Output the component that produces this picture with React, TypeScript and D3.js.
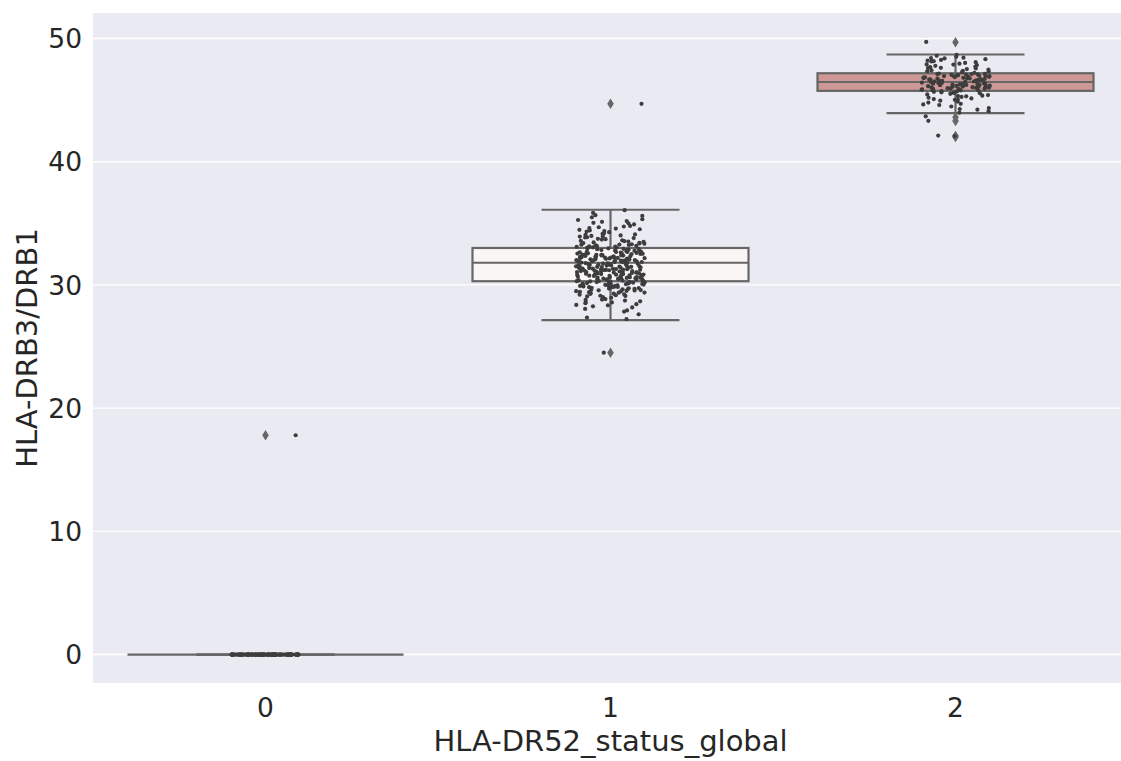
import React from "react";
import * as d3 from "d3";

// ---------- data ----------
const categories = ["0", "1", "2"];

// box statistics
const q1 = [0, 30.3, 45.75];
const medians = [0, 31.8, 46.47];
const q3 = [0, 33.0, 47.18];
const whiskerLow = [0, 27.15, 43.95];
const whiskerHigh = [0, 36.1, 48.7];
const fliers = [[17.8], [44.7, 24.5], [49.7, 43.6, 43.3, 42.1, 42.0]];

// stripplot observations
const strip0 = [
  0, 0, 0, 0, 0, 0, 0, 0, 0, 0, 0, 0, 0, 0, 0, 0, 0, 0, 0, 0,
  0, 0, 0, 0, 0, 0, 0, 0, 0, 0, 0, 0, 0, 0, 0, 0, 0, 0, 0, 0,
  0, 0, 0, 0, 0, 0, 0, 0, 0, 0, 0, 0, 0, 0, 0, 0, 0, 0, 0, 0,
  0, 0, 0, 0, 0, 0, 0, 0, 0, 0, 0, 0, 0, 0, 0, 0, 0, 0, 0, 0,
  0, 0, 0, 0, 0, 0, 0, 0, 0, 0, 0, 0, 0, 0, 0, 0, 0, 0, 0, 0,
  0, 0, 0, 0, 0, 0, 0, 0, 0, 0, 0, 0, 0, 0, 0, 0, 0, 0, 0, 0,
  17.8,
];
const strip1 = [
  27.22, 27.35, 27.61, 27.84, 27.93, 28.05, 28.17, 28.26, 28.38, 28.44, 28.52, 28.61, 28.67, 28.73, 28.79, 28.85, 28.91, 28.96,
  29.02, 29.07, 29.11, 29.16, 29.21, 29.24, 29.29, 29.33, 29.37, 29.41, 29.44, 29.48, 29.52, 29.55, 29.58, 29.61, 29.64, 29.67, 29.7, 29.73, 29.76, 29.79, 29.82, 29.84, 29.87, 29.9, 29.92, 29.95, 29.98,
  30.01, 30.03, 30.06, 30.08, 30.11, 30.13, 30.16, 30.18, 30.21, 30.23, 30.25, 30.28, 30.3, 30.32, 30.35, 30.37, 30.39, 30.42, 30.44, 30.46, 30.49, 30.51, 30.53, 30.55, 30.58, 30.6, 30.62, 30.64, 30.66, 30.69, 30.71, 30.73, 30.75, 30.77, 30.8, 30.82, 30.84, 30.86, 30.88, 30.9, 30.93, 30.95, 30.97, 30.99,
  31.01, 31.03, 31.05, 31.07, 31.09, 31.11, 31.13, 31.15, 31.17, 31.19, 31.21, 31.23, 31.25, 31.27, 31.29, 31.31, 31.33, 31.35, 31.37, 31.39, 31.41, 31.43, 31.45, 31.47, 31.49, 31.51, 31.53, 31.55, 31.57, 31.59, 31.61, 31.63, 31.65, 31.67, 31.69, 31.71, 31.73, 31.75, 31.77, 31.79, 31.81, 31.83, 31.85, 31.87, 31.89, 31.91, 31.93, 31.95, 31.97, 31.99,
  32.01, 32.04, 32.06, 32.08, 32.1, 32.13, 32.15, 32.17, 32.19, 32.22, 32.24, 32.26, 32.28, 32.31, 32.33, 32.35, 32.38, 32.4, 32.42, 32.45, 32.47, 32.5, 32.52, 32.55, 32.57, 32.6, 32.63, 32.65, 32.68, 32.71, 32.74, 32.77, 32.8, 32.83, 32.86, 32.9, 32.93, 32.97,
  33.01, 33.05, 33.09, 33.13, 33.17, 33.21, 33.26, 33.3, 33.35, 33.4, 33.45, 33.5, 33.56, 33.62, 33.68, 33.74, 33.8, 33.87, 33.94,
  34.02, 34.1, 34.19, 34.28, 34.37, 34.47, 34.57, 34.68, 34.79, 34.91, 35.04, 35.18, 35.33, 35.49, 35.66, 35.85, 36.07,
  24.5, 44.7,
  28.34, 28.81, 29.12, 29.38, 29.56, 29.74, 29.88, 29.97, 30.07, 30.19, 30.29, 30.41, 30.52, 30.63, 30.74, 30.83, 30.94,
  31.04, 31.12, 31.22, 31.32, 31.42, 31.52, 31.62, 31.72, 31.82, 31.92, 32.02, 32.12, 32.21, 32.3, 32.39, 32.48, 32.58,
  32.67, 32.76, 32.85, 32.95, 33.03, 33.15, 33.28, 33.42, 33.58, 33.71, 33.85, 33.98, 34.15, 34.33, 34.52, 34.74, 35.0,
  35.27, 35.6, 29.49, 30.15, 30.57, 31.08, 31.46, 31.86, 32.27, 32.69, 33.11, 33.52, 34.06, 34.61, 35.12, 29.83, 31.27,
  31.68, 32.16, 32.53, 32.92, 33.36, 30.46, 30.88, 31.58, 31.96, 32.44, 33.24, 33.92, 34.42, 28.58, 29.27, 29.69, 30.35,
];
const strip2 = [
  42.08, 42.12, 43.32, 43.68, 49.72,
  43.98, 44.1, 44.22, 44.35, 44.48, 44.6, 44.7, 44.8, 44.88, 44.95,
  45.02, 45.08, 45.14, 45.2, 45.26, 45.31, 45.36, 45.41, 45.46, 45.51, 45.55, 45.59, 45.63, 45.67, 45.71, 45.74,
  45.77, 45.79, 45.81, 45.83, 45.85, 45.87, 45.89, 45.91, 45.93, 45.95, 45.97, 45.99, 46.01, 46.03, 46.05, 46.07, 46.09, 46.11, 46.13, 46.15, 46.17, 46.19, 46.21, 46.23, 46.25, 46.27, 46.29, 46.31, 46.33, 46.35, 46.37, 46.39, 46.42, 46.45,
  46.49, 46.51, 46.53, 46.55, 46.57, 46.59, 46.61, 46.63, 46.65, 46.67, 46.69, 46.71, 46.73, 46.75, 46.77, 46.79, 46.81, 46.83, 46.85, 46.87, 46.89, 46.91, 46.93, 46.95, 46.97, 46.99, 47.01, 47.03, 47.05, 47.07, 47.09, 47.11, 47.13, 47.16,
  47.22, 47.27, 47.32, 47.37, 47.42, 47.47, 47.52, 47.57, 47.62, 47.67, 47.72, 47.78, 47.84, 47.9, 47.96, 48.02, 48.08, 48.14, 48.2, 48.26, 48.32, 48.38, 48.44, 48.52, 48.6, 48.68,
  44.28, 44.65, 45.05, 45.33, 45.6, 45.84, 46.02, 46.22, 46.4, 46.58, 46.76, 46.94, 47.12, 47.35, 47.6, 47.88, 48.16, 48.41,
];
const strips = [strip0, strip1, strip2];

const yTicks = [0, 10, 20, 30, 40, 50];
const boxFills = ["#9fb4d6", "#f9f6f5", "#cd9896"];
const xLabel = "HLA-DR52_status_global";
const yLabel = "HLA-DRB3/DRB1";

// ---------- layout ----------
const W = 1121;
const H = 761;
const plotLeft = 93;
const plotRight = 1128;
const plotTop = 13;
const plotBottom = 683;

const FONT = "'DejaVu Sans', sans-serif";
const TXT = "#262626";
const EDGE = "#666666";

// deterministic jitter (uniform in [-0.1, 0.1] category units)
function jitter(i: number, seed: number): number {
  const s = Math.sin(i * 12.9898 + seed * 78.233 + 1.7) * 43758.5453;
  const f = s - Math.floor(s);
  return (f - 0.5) * 0.2;
}

export default function App() {
  const x = d3.scaleLinear().domain([-0.5, 2.5]).range([plotLeft, plotRight]);
  const y = d3.scaleLinear().domain([-2.31, 52.07]).range([plotBottom, plotTop]);
  const boxW = x(0.4) - x(0);
  const capW = x(0.2) - x(0);

  const diamond = (cx: number, cy: number) =>
    `M${cx},${cy - 5.2}L${cx + 3.3},${cy}L${cx},${cy + 5.2}L${cx - 3.3},${cy}Z`;

  return (
    <svg
      width={W}
      height={H}
      style={{ position: "absolute", left: 0, top: 0, background: "#ffffff" }}
    >
      <rect x={0} y={0} width={W} height={H} fill="#ffffff" />
      <rect
        x={plotLeft}
        y={plotTop}
        width={plotRight - plotLeft}
        height={plotBottom - plotTop}
        fill="#eaeaf2"
      />
      {yTicks.map((t) => (
        <line
          key={"g" + t}
          x1={plotLeft}
          x2={plotRight}
          y1={y(t)}
          y2={y(t)}
          stroke="#ffffff"
          strokeWidth={1.4}
        />
      ))}

      {categories.map((c, i) => {
        const cx = x(i);
        return (
          <g key={"box" + c}>
            <line x1={cx} x2={cx} y1={y(q1[i])} y2={y(whiskerLow[i])} stroke={EDGE} strokeWidth={2.2} />
            <line x1={cx} x2={cx} y1={y(q3[i])} y2={y(whiskerHigh[i])} stroke={EDGE} strokeWidth={2.2} />
            <line x1={cx - capW} x2={cx + capW} y1={y(whiskerLow[i])} y2={y(whiskerLow[i])} stroke={EDGE} strokeWidth={2.2} />
            <line x1={cx - capW} x2={cx + capW} y1={y(whiskerHigh[i])} y2={y(whiskerHigh[i])} stroke={EDGE} strokeWidth={2.2} />
            <rect
              x={cx - boxW}
              y={y(q3[i])}
              width={boxW * 2}
              height={Math.max(0, y(q1[i]) - y(q3[i]))}
              fill={boxFills[i]}
              stroke={EDGE}
              strokeWidth={2.2}
            />
            <line x1={cx - boxW} x2={cx + boxW} y1={y(medians[i])} y2={y(medians[i])} stroke={EDGE} strokeWidth={2.2} />
            {fliers[i].map((f, k) => (
              <path key={"f" + k} d={diamond(cx, y(f))} fill={EDGE} />
            ))}
          </g>
        );
      })}

      {strips.map((vals, i) => (
        <g key={"strip" + i}>
          {vals.map((v, k) => (
            <circle
              key={k}
              cx={x(i + jitter(k, i + 1))}
              cy={y(v)}
              r={2.1}
              fill="#3d3d3d"
            />
          ))}
        </g>
      ))}

      {yTicks.map((t) => (
        <text
          key={"yt" + t}
          x={82}
          y={y(t) + 9.6}
          textAnchor="end"
          fontFamily={FONT}
          fontSize={26.5}
          fill={TXT}
        >
          {t}
        </text>
      ))}
      {categories.map((c, i) => (
        <text
          key={"xt" + c}
          x={x(i)}
          y={717}
          textAnchor="middle"
          fontFamily={FONT}
          fontSize={26.5}
          fill={TXT}
        >
          {c}
        </text>
      ))}
      <text
        x={(plotLeft + plotRight) / 2}
        y={751}
        textAnchor="middle"
        fontFamily={FONT}
        fontSize={29}
        fill={TXT}
      >
        {xLabel}
      </text>
      <text
        transform={`translate(37, ${(plotTop + plotBottom) / 2}) rotate(-90)`}
        textAnchor="middle"
        fontFamily={FONT}
        fontSize={29}
        fill={TXT}
      >
        {yLabel}
      </text>
    </svg>
  );
}
